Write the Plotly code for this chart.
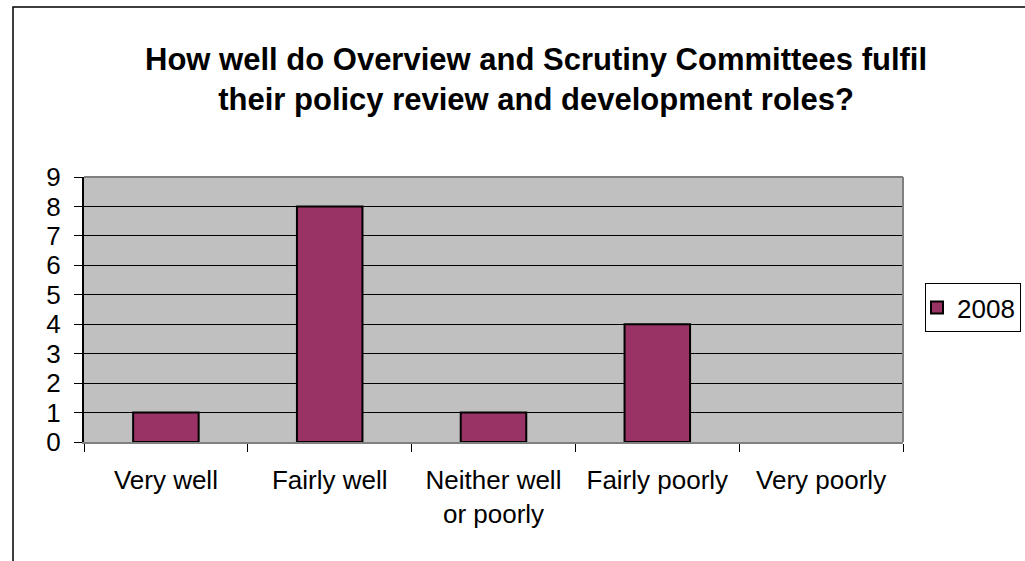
import plotly.graph_objects as go

categories = ["Very well", "Fairly well", "Neither well<br>or poorly", "Fairly poorly", "Very poorly"]
values_2008 = [1, 8, 1, 4, 0]
series_name = "2008"
y_ticks = list(range(0, 10))

# empty bars get no outline so nothing is drawn for them
outline_widths = [2 if v > 0 else 0 for v in values_2008]

fig = go.Figure()
fig.add_trace(go.Bar(
    x=categories,
    y=values_2008,
    name=series_name,
    marker=dict(color="#993366", line=dict(color="#000000", width=outline_widths)),
    width=0.4,
    showlegend=True,
))

font_family = "Liberation Sans, Arial, sans-serif"

fig.update_layout(
    width=1025,
    height=561,
    margin=dict(l=84, r=122, t=177, b=119, autoexpand=False),
    paper_bgcolor="#FFFFFF",
    plot_bgcolor="#C0C0C0",
    font=dict(family=font_family, size=26, color="#000000"),
    title=dict(
        text="How well do Overview and Scrutiny Committees fulfil<br>their policy review and development roles?",
        font=dict(family=font_family, size=31, color="#000000", weight="bold"),
        x=0.523, xanchor="center",
        y=1 - 70 / 561, yanchor="middle", yref="container",
    ),
    showlegend=True,
    legend=dict(
        xref="container", yref="container",
        x=925 / 1025, xanchor="left",
        y=1 - 283 / 561, yanchor="top",
        bgcolor="#FFFFFF",
        bordercolor="#000000",
        borderwidth=1,
        font=dict(family=font_family, size=26, color="#000000"),
        itemwidth=30,
        indentation=-9,
    ),
    bargap=0.6,
)

fig.update_xaxes(
    type="category",
    showgrid=False,
    showline=True, linecolor="#808080", linewidth=2,
    ticks="outside", tickson="boundaries", ticklen=8, tickcolor="#000000", tickwidth=1,
    ticklabelstandoff=14,
    tickfont=dict(family=font_family, size=26, color="#000000"),
    zeroline=False,
)
fig.update_yaxes(
    range=[0, 9],
    tickvals=y_ticks,
    showgrid=True, gridcolor="#000000", gridwidth=1,
    showline=True, linecolor="#000000", linewidth=2,
    ticks="outside", ticklen=8, tickcolor="#000000", tickwidth=1,
    ticklabelstandoff=8,
    tickfont=dict(family=font_family, size=26, color="#000000"),
    zeroline=False,
)

# plot-area frame (grey on the top and right), outer chart frame
fig.add_shape(type="line", xref="paper", yref="paper", x0=0, x1=1, y0=1, y1=1,
              line=dict(color="#808080", width=2), layer="above")
fig.add_shape(type="line", xref="paper", yref="paper", x0=1, x1=1, y0=0, y1=1,
              line=dict(color="#808080", width=2), layer="above")
fig.add_shape(type="rect", xref="paper", yref="paper",
              x0=(13 - 84) / 819, x1=1.2, y0=(442 - 7) / 265, y1=-0.6,
              line=dict(color="#000000", width=1.5), layer="above")

fig.write_html("out.html")
